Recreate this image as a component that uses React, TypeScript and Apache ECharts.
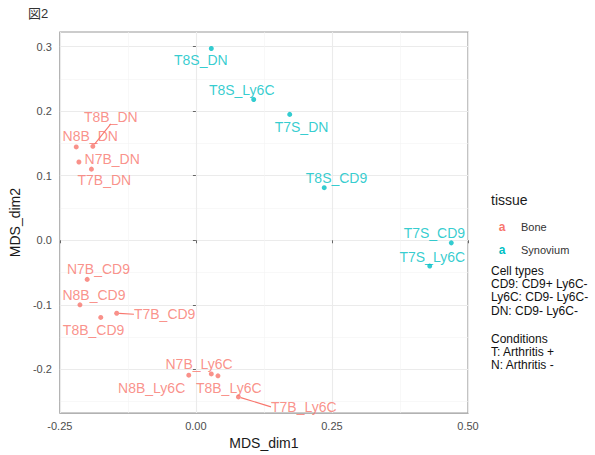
import React, { useEffect, useRef } from "react";
import * as echarts from "echarts";

// ---- data ----
const boneNames = ["N8B_DN", "T8B_DN", "N7B_DN", "T7B_DN", "N7B_CD9", "N8B_CD9", "T8B_CD9", "T7B_CD9", "N8B_Ly6C", "N7B_Ly6C", "T8B_Ly6C", "T7B_Ly6C"];
const boneDim1 = [-0.2199, -0.1894, -0.215, -0.192, -0.1998, -0.2131, -0.1748, -0.1456, -0.0131, 0.0283, 0.0405, 0.0781];
const boneDim2 = [0.1446, 0.1455, 0.1212, 0.1102, -0.0606, -0.1, -0.1195, -0.113, -0.209, -0.207, -0.21, -0.2426];

const synNames = ["T8S_DN", "T8S_Ly6C", "T7S_DN", "T8S_CD9", "T7S_CD9", "T7S_Ly6C"];
const synDim1 = [0.0283, 0.1062, 0.1724, 0.2358, 0.4693, 0.4297];
const synDim2 = [0.297, 0.218, 0.195, 0.0815, -0.004, -0.04];

const xTicks = [-0.25, 0, 0.25, 0.5];
const yTicks = [-0.2, -0.1, 0, 0.1, 0.2, 0.3];

const legendTitle = "tissue";
const legendItems = ["Bone", "Synovium"];
const noteCellTypes = ["Cell types", "CD9: CD9+ Ly6C-", "Ly6C: CD9- Ly6C-", "DN: CD9- Ly6C-"];
const noteConditions = ["Conditions", "T: Arthritis +", "N: Arthritis -"];

// ---- styling / label placement (ggrepel-like pixel shifts) ----
const FONT = "'Liberation Sans', Arial, 'Noto Sans CJK JP', sans-serif";
const RED = "#F8766D";
const CYAN = "#00BFC4";

const labelShift: Record<string, [number, number, number]> = {
  N8B_DN: [14, -11, 0],
  T8B_DN: [18, -29.4, 1],
  N7B_DN: [33.3, -3.3, 0],
  T7B_DN: [12.9, 11, 0],
  N7B_CD9: [11.3, -10, 0],
  N8B_CD9: [14, -10, 0],
  T8B_CD9: [-7.2, 12.7, 0],
  T7B_CD9: [48, 1, 1],
  N8B_Ly6C: [-37.1, 12.4, 0],
  N7B_Ly6C: [-12.2, -10, 0],
  T8B_Ly6C: [10.8, 12.4, 0],
  T7B_Ly6C: [65.4, 10, 1],
  T8S_DN: [-10.5, 11.7, 0],
  T8S_Ly6C: [-12, -9.7, 0],
  T7S_DN: [11.8, 12.6, 0],
  T8S_CD9: [12.3, -10, 0],
  T7S_CD9: [-16.9, -10, 0],
  T7S_Ly6C: [2.5, -9.3, 0],
};

function makeSeries(name: string, names: string[], xs: number[], ys: number[], color: string) {
  return {
    type: "scatter",
    name,
    symbol: "circle",
    symbolSize: 5,
    itemStyle: { color },
    data: names.map((n, i) => ({
      name: n,
      value: [xs[i], ys[i]],
      labelLine: { show: labelShift[n][2] === 1 },
    })),
    label: {
      show: true,
      position: "inside",
      formatter: "{b}",
      color,
      fontSize: 14,
      fontFamily: FONT,
    },
    labelLine: { show: false, lineStyle: { color, width: 1.1 } },
    labelLayout: (p: any) => {
      const s = labelShift[names[p.dataIndex]];
      return { dx: s[0], dy: s[1] };
    },
    emphasis: { disabled: true },
    z: 3,
  };
}

export default function App() {
  const ref = useRef<HTMLDivElement>(null);

  useEffect(() => {
    document.body.style.margin = "0";
    if (!ref.current) return;
    const chart = echarts.init(ref.current, undefined, { renderer: "svg" });

    const legendX = 491;
    const graphic: any[] = [
      {
        type: "text",
        x: 28,
        y: 13.5,
        style: { text: "図2", fill: "#333", fontSize: 13, fontFamily: FONT, verticalAlign: "middle" },
      },
      {
        type: "text",
        x: legendX,
        y: 200,
        style: { text: legendTitle, fill: "#1a1a1a", fontSize: 14, fontFamily: FONT, verticalAlign: "middle" },
      },
    ];
    [RED, CYAN].forEach((c, i) => {
      const y = 226.7 + i * 23.3;
      graphic.push({
        type: "text",
        x: 502,
        y,
        style: { text: "a", fill: c, fontSize: 12, fontWeight: "bold", fontFamily: FONT, align: "center", verticalAlign: "middle" },
      });
      graphic.push({
        type: "text",
        x: 521,
        y,
        style: { text: legendItems[i], fill: "#333", fontSize: 11, fontFamily: FONT, verticalAlign: "middle" },
      });
    });
    graphic.push({
      type: "text",
      x: legendX,
      y: 264,
      style: { text: noteCellTypes.join("\n"), fill: "#111", fontSize: 12, lineHeight: 13.3, fontFamily: FONT, verticalAlign: "top" },
    });
    graphic.push({
      type: "text",
      x: legendX,
      y: 332,
      style: { text: noteConditions.join("\n"), fill: "#111", fontSize: 12, lineHeight: 13.3, fontFamily: FONT, verticalAlign: "top" },
    });

    chart.setOption({
      animation: false,
      backgroundColor: "#ffffff",
      grid: {
        left: 58,
        right: 127,
        top: 32,
        bottom: 38,
        show: true,
        borderColor: "#999999",
        borderWidth: 1.2,
        backgroundColor: "transparent",
      },
      xAxis: {
        type: "value",
        min: xTicks[0],
        max: xTicks[xTicks.length - 1],
        interval: 0.25,
        name: "MDS_dim1",
        nameLocation: "middle",
        nameGap: 20,
        nameTextStyle: { fontSize: 14, color: "#1a1a1a", fontFamily: FONT },
        axisLine: { show: false },
        axisTick: { show: true, length: 3, lineStyle: { color: "#666" } },
        minorTick: { show: false, splitNumber: 2 },
        axisLabel: {
          fontSize: 11,
          color: "#4D4D4D",
          fontFamily: FONT,
          margin: 7,
          formatter: (v: number) => v.toFixed(2),
        },
        splitLine: { show: true, lineStyle: { color: "#EBEBEB", width: 1.1 } },
        minorSplitLine: { show: true, lineStyle: { color: "#F3F3F3", width: 0.6 } },
      },
      yAxis: {
        type: "value",
        min: -0.2677,
        max: 0.3226,
        splitNumber: 6,
        name: "MDS_dim2",
        nameLocation: "middle",
        nameGap: 32,
        nameTextStyle: { fontSize: 14, color: "#1a1a1a", fontFamily: FONT },
        axisLine: { show: false },
        axisTick: { show: true, length: 3, lineStyle: { color: "#666" }, customValues: yTicks },
        minorTick: { show: false, splitNumber: 2 },
        axisLabel: {
          fontSize: 11,
          color: "#4D4D4D",
          fontFamily: FONT,
          margin: 8,
          customValues: yTicks,
          showMinLabel: true,
          showMaxLabel: true,
          formatter: (v: number) => v.toFixed(1),
        },
        splitLine: { show: true, lineStyle: { color: "#EBEBEB", width: 1.1 } },
        minorSplitLine: { show: true, lineStyle: { color: "#F3F3F3", width: 0.6 } },
      },
      series: [
        makeSeries("Bone", boneNames, boneDim1, boneDim2, RED),
        makeSeries("Synovium", synNames, synDim1, synDim2, CYAN),
      ],
      graphic,
    });

    return () => chart.dispose();
  }, []);

  return <div ref={ref} style={{ position: "fixed", left: 0, top: 0, width: 595, height: 455 }} />;
}
